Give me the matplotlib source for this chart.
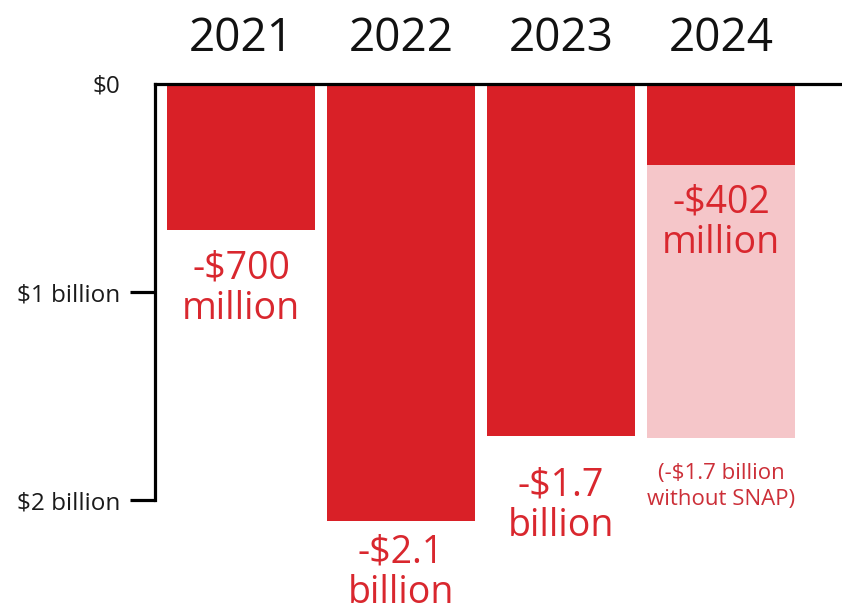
import matplotlib
matplotlib.use("Agg")
import matplotlib.pyplot as plt

# 연도별 적자 (단위: 십억 달러)
years = ["2021", "2022", "2023", "2024"]
deficit = [0.70, 2.10, 1.69, 0.39]
deficit_no_snap = [0, 0, 0, 1.70]
labels = ["-$700\nmillion", "-$2.1\nbillion", "-$1.7\nbillion", "-$402\nmillion"]
note_2024 = "(-$1.7 billion\nwithout SNAP)"
y_ticks = [0, 1, 2]
y_tick_labels = ["$0", "$1 billion", "$2 billion"]

# 라벨 위치 (막대 끝에서 아래로, 포인트)
label_offsets = [-14, -9, -22, -13]

plt.rcParams['font.family'] = ['Open Sans', 'DejaVu Sans']

red = "#d92027"
pink = "#f5c6c9"
text_red = "#d9272e"

fig = plt.figure(figsize=(8.42, 6.14), dpi=100)
ax = fig.add_axes([155 / 842, 0, 1 - 155 / 842, 1 - 84 / 614])

x = list(range(len(years)))
ax.bar(x, deficit_no_snap, width=0.925, color=pink, zorder=1)
ax.bar(x, deficit, width=0.925, color=red, zorder=2)

ax.set_xlim(-0.5375, 3.756)
ax.set_ylim(2.548, 0)

# 막대 라벨
for i, v in enumerate(deficit):
    ax.annotate(labels[i], (i, v), xytext=(0, label_offsets[i]), textcoords="offset points",
                ha="center", va="top", fontsize=27, color=text_red, linespacing=1.1)
ax.annotate(note_2024, (3, deficit_no_snap[3]), xytext=(0, -18), textcoords="offset points",
            ha="center", va="top", fontsize=16, color="#cc2f38", linespacing=1.35)

# 축 스타일
for s in ["right", "bottom"]:
    ax.spines[s].set_visible(False)
ax.spines["top"].set_linewidth(2.3)
ax.spines["left"].set_linewidth(2.3)
ax.spines["left"].set_bounds(0, 2)

ax.set_yticks(y_ticks)
ax.set_yticklabels(y_tick_labels, fontsize=17.5, color="#1a1a1a")
ax.tick_params(axis="y", length=18, width=2.3, pad=7)
ax.yaxis.get_major_ticks()[0].tick1line.set_visible(False)

ax.xaxis.tick_top()
ax.set_xticks(x)
ax.set_xticklabels(years, fontsize=33, color="#111111")
ax.tick_params(axis="x", length=0, pad=16)

fig.savefig("out.png", dpi=100)
